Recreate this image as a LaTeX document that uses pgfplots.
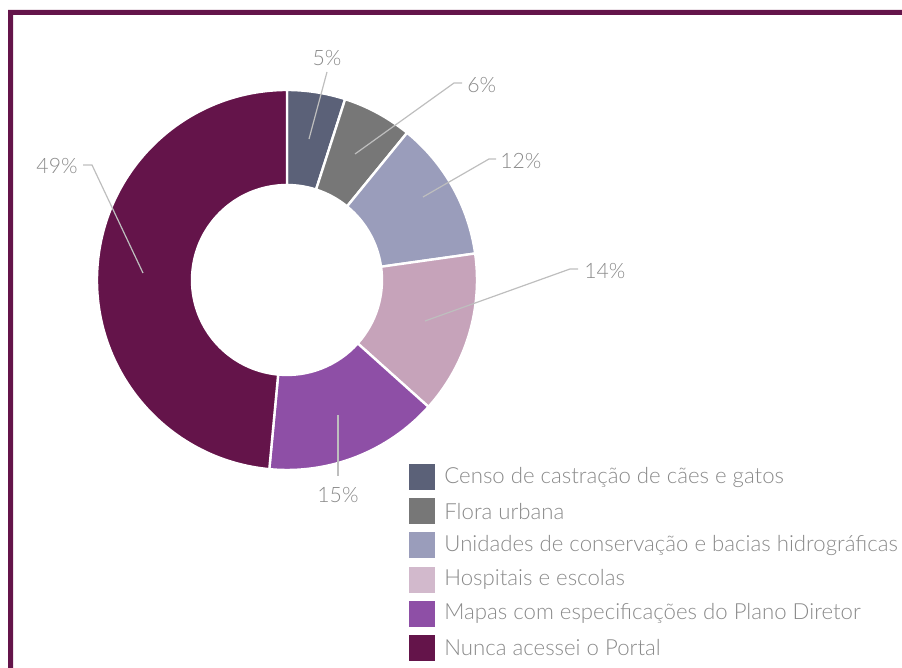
\documentclass[border=0pt]{standalone}
\usepackage{fontspec}
\setmainfont{Lato Light}
\usepackage{pgfplots}
\pgfplotsset{compat=1.18}
\definecolor{frameC}{HTML}{64144A}
\definecolor{cA}{HTML}{5B6178}
\definecolor{cB}{HTML}{777777}
\definecolor{cC}{HTML}{9A9DBB}
\definecolor{cD}{HTML}{C6A3BA}
\definecolor{cDl}{HTML}{D2B9CC}
\definecolor{cE}{HTML}{8E4FA6}
\definecolor{cF}{HTML}{64144A}
\definecolor{txt}{HTML}{8A8A8A}
\definecolor{lead}{HTML}{BEBEBE}
\begin{document}
\begin{tikzpicture}
\begin{axis}[x=0.5pt, y=0.5pt, xmin=0, xmax=902, ymin=0, ymax=668,
  y dir=reverse, hide axis, clip=false, scale only axis,
  width=451pt, height=334pt]
% frame
\addplot[draw=none, fill=frameC] coordinates {(8,10) (902,10) (902,15) (13,15) (13,668) (8,668)} -- cycle;
\pgfplotsextra{
  % fix bounding box to the full reference canvas
  \path[use as bounding box] (axis cs:0,0) rectangle (axis cs:902,668);
  % donut slices: cumulative start/end values (sum 101)
  \foreach \a/\b/\c in {0/5/cA, 5/11/cB, 11/23/cC, 23/37/cD, 37/52/cE, 52/101/cF}{
    \pgfmathsetmacro\sa{90-\a/101*360}
    \pgfmathsetmacro\ea{90-\b/101*360}
    \fill[\c, draw=white, line width=1.2pt] (axis cs:287,280) ++(\sa:95pt)
      arc[start angle=\sa, end angle=\ea, radius=95pt]
      -- ++(\ea+180:47.5pt)
      arc[start angle=\ea, end angle=\sa, radius=47.5pt] -- cycle;
  }
  % leader lines
  \draw[lead, line width=0.6pt] (axis cs:309,139) -- (axis cs:327,72);
  \draw[lead, line width=0.6pt] (axis cs:355,154) -- (axis cs:454,83) -- (axis cs:462,83);
  \draw[lead, line width=0.6pt] (axis cs:423,197) -- (axis cs:489,159) -- (axis cs:496,159);
  \draw[lead, line width=0.6pt] (axis cs:425,321) -- (axis cs:570,269) -- (axis cs:578,269);
  \draw[lead, line width=0.6pt] (axis cs:338,415) -- (axis cs:338,476);
  \draw[lead, line width=0.6pt] (axis cs:143,273) -- (axis cs:92,165) -- (axis cs:83,165);
  % labels
  \begingroup\fontsize{10.6}{12}\selectfont
  \node[txt, inner sep=0pt] at (axis cs:327,58) {5\%};
  \node[txt, inner sep=0pt, anchor=west] at (axis cs:467,85) {6\%};
  \node[txt, inner sep=0pt, anchor=west] at (axis cs:500,161) {12\%};
  \node[txt, inner sep=0pt, anchor=west] at (axis cs:584,271) {14\%};
  \node[txt, inner sep=0pt] at (axis cs:338,495) {15\%};
  \node[txt, inner sep=0pt, anchor=east] at (axis cs:78,166) {49\%};
  \endgroup
  % legend
  \begingroup\fontsize{11.1}{12}\selectfont
  \foreach \i/\c/\t in {0/cA/{Censo de castração de cães e gatos},
                        1/cB/{Flora urbana},
                        2/cC/{Unidades de conservação e bacias hidrográficas},
                        3/cDl/{Hospitais e escolas},
                        4/cE/{Mapas com especificações do Plano Diretor},
                        5/cF/{Nunca acessei o Portal}}{
    \pgfmathsetmacro\yy{477+\i*34.2}
    \fill[\c] (axis cs:409,\yy-13) rectangle (axis cs:435,\yy+13);
    \node[txt, inner sep=0pt, anchor=west] at (axis cs:444,\yy) {\t};
  }
  \endgroup
}
\end{axis}
\end{tikzpicture}
\end{document}
